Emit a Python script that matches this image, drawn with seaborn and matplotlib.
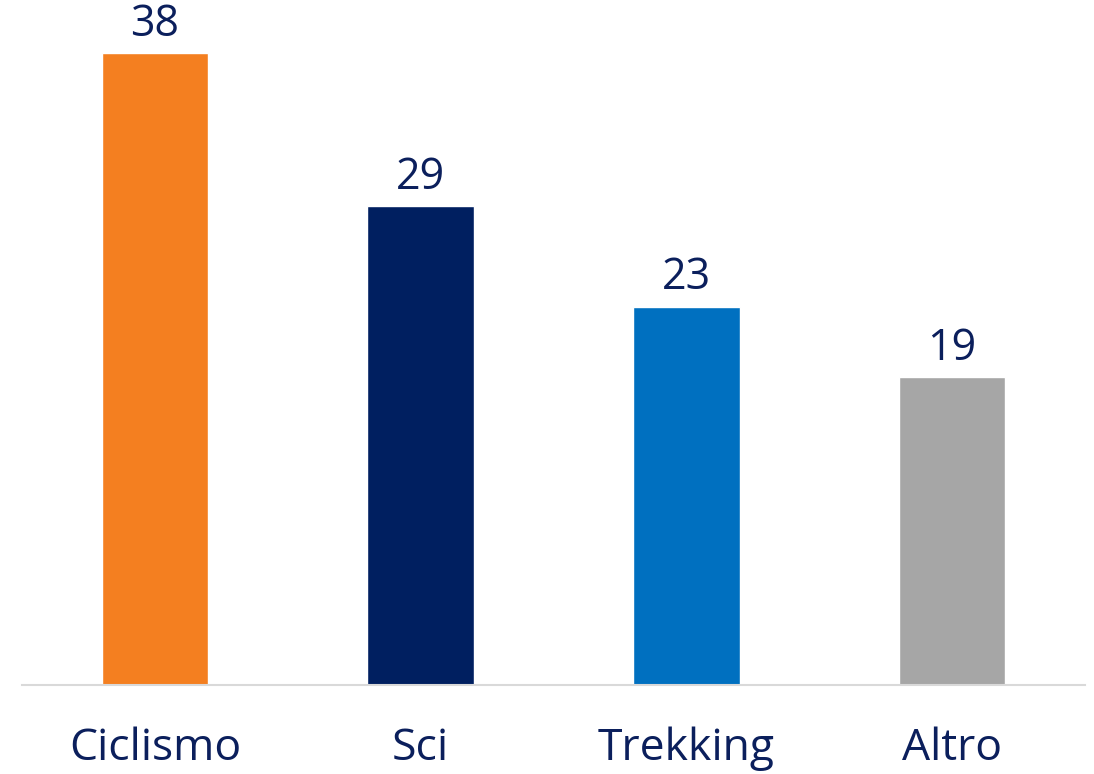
"""Bar chart: sports by share."""
import matplotlib.pyplot as plt
import pandas as pd
import seaborn as sns

categories = ["Ciclismo", "Sci", "Trekking", "Altro"]
values = [38.4, 29.1, 23.0, 18.7]
bar_colors = ["#F47F20", "#001F60", "#0070C0", "#A6A6A6"]

TEXT_COLOR = "#0B1F5C"


def main() -> None:
    df = pd.DataFrame({"category": categories, "value": values})

    sns.set_theme(style="white")
    plt.rcParams["font.family"] = ["Open Sans", "DejaVu Sans"]

    fig = plt.figure(figsize=(10.94, 7.74), dpi=100)
    ax = fig.add_axes([22 / 1094, 1 - 685 / 774, 1063 / 1094, 658 / 774])

    sns.barplot(
        data=df, x="category", y="value", hue="category",
        palette=bar_colors, width=0.4, legend=False, ax=ax, saturation=1,
    )

    for i, v in enumerate(values):
        ax.text(i, v + 0.4, f"{v:.0f}", ha="center", va="bottom",
                fontsize=31, color=TEXT_COLOR)

    ax.set_xlim(-0.5, 3.5)
    ax.set_ylim(0, 40)
    ax.set_xlabel("")
    ax.set_ylabel("")
    ax.set_yticks([])
    ax.tick_params(axis="x", length=0, pad=30, labelsize=32, labelcolor=TEXT_COLOR)
    for side in ["top", "left", "right"]:
        ax.spines[side].set_visible(False)
    ax.spines["bottom"].set_color("#D9D9D9")
    ax.spines["bottom"].set_linewidth(1.5)

    fig.savefig("out.png", dpi=100)


if __name__ == "__main__":
    main()
